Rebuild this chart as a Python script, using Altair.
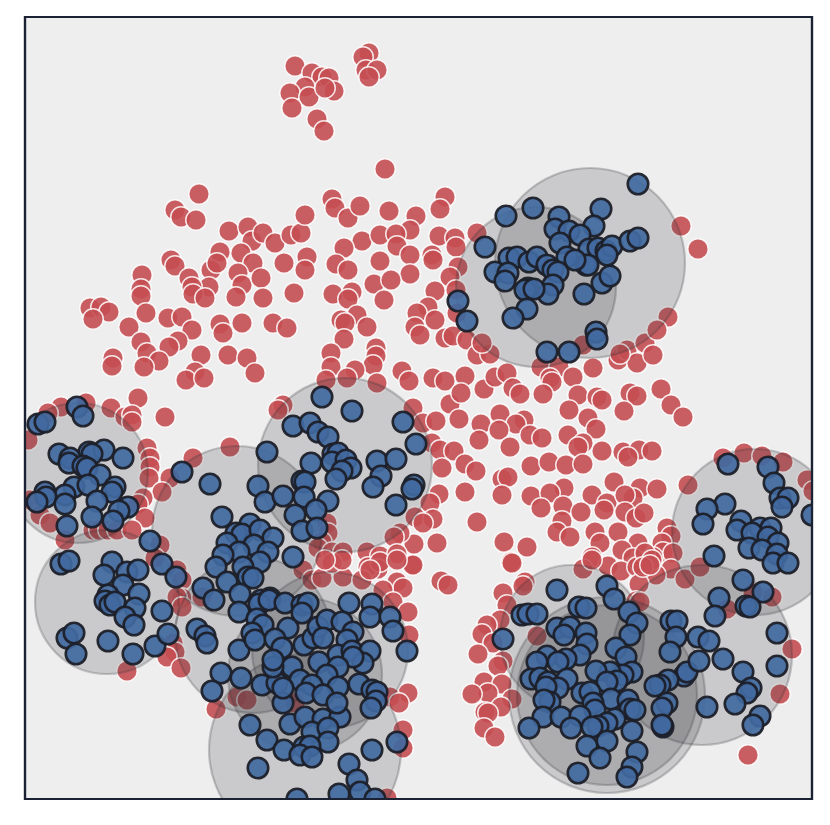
import altair as alt
import pandas as pd

red_top = [(295,66),(312,73),(322,77),(329,78),(305,87),(334,91),(290,93),(309,97),(325,88),(292,108),(317,119),(324,131),(369,53),(363,57),(366,70),(377,70),(369,77),(385,169)]
red_upper_left = [(199,194),(175,210),(181,217),(196,220),(229,231),(248,227),(252,241),(263,233),(275,243),(291,235),(301,233),(305,215),(220,252),(241,253),(211,270),(217,263),(253,263),(284,263),(307,257),(305,270),(171,260),(175,266),(142,275),(141,289),(141,296),(189,278),(209,287),(192,287),(193,294),(205,298),(238,273),(242,285),(261,278),(236,297),(263,298),(294,293),(90,308),(101,307),(109,312),(93,319),(146,313),(168,318),(182,317),(129,327),(192,330),(141,342),(178,341),(169,347),(220,324),(223,333),(242,323),(273,323),(287,328),(147,353),(159,361),(113,358),(112,366),(144,367),(201,355),(228,355),(247,358),(255,373),(195,372),(186,380),(204,378)]
red_upper_mid = [(332,199),(335,208),(348,218),(360,206),(389,211),(445,197),(440,209),(416,216),(410,230),(362,241),(344,248),(380,235),(396,234),(397,246),(410,255),(439,236),(455,238),(456,247),(432,255),(433,260),(477,233),(336,264),(348,270),(380,261),(410,274),(458,267),(450,277),(374,284),(391,280),(333,294),(352,292),(348,299),(384,300),(435,291),(428,307),(417,313),(435,320),(456,290),(457,313),(357,315),(341,320),(345,323),(367,327),(344,339),(415,327),(420,335),(445,338),(453,336),(467,340),(376,348),(376,356),(331,353),(331,367),(373,365),(355,370),(326,380),(347,378),(377,383),(402,371),(409,381),(433,378),(445,381),(465,376),(477,355),(490,354),(484,389),(450,404),(413,408),(482,343)]
red_center = [(495,377),(507,373),(513,388),(520,394),(541,367),(559,367),(573,377),(550,378),(552,382),(543,394),(593,368),(618,360),(627,350),(637,363),(645,343),(653,355),(583,345),(620,354),(668,317),(657,330),(578,395),(597,397),(602,400),(630,393),(637,396),(661,389),(671,405),(683,417),(624,411),(569,410),(588,418),(596,429),(423,423),(436,421),(459,419),(461,393),(500,414),(481,424),(524,420),(516,424),(499,430),(479,440),(530,435),(542,438),(568,435),(510,447),(432,443),(440,450),(454,451),(583,443),(578,447),(602,451),(623,452),(639,450),(652,451),(628,457),(442,468),(465,464),(476,471),(531,466),(549,462),(566,465),(583,464),(502,479),(508,477),(502,495),(614,482),(564,488),(531,496),(550,493),(541,508),(563,506),(592,495),(607,503),(604,510),(640,488),(633,498),(625,495),(657,489),(625,512),(636,518),(644,513),(581,512),(562,521),(557,532),(570,537),(439,494),(465,492),(430,503),(415,517),(433,519),(423,523),(477,522),(414,544),(437,543),(504,542),(527,547),(511,562),(595,532),(618,532),(600,543),(638,543),(622,550),(592,557),(667,528),(671,536),(662,543),(663,552),(673,553),(633,558),(653,557),(608,566),(621,571),(637,567),(583,569),(671,569),(656,575),(639,584),(685,579),(412,565),(441,581),(448,585),(525,582),(523,586),(503,593),(688,485),(645,553),(652,560),(643,567),(650,565),(700,567)]
red_lower = [(507,605),(592,560),(636,601),(500,620),(487,625),(482,634),(493,643),(478,654),(537,636),(503,661),(498,666),(484,682),(502,684),(488,693),(472,694),(512,699),(501,707),(485,712),(488,713),(484,728),(495,737),(640,602),(512,563)]
red_right = [(723,458),(744,453),(762,456),(783,462),(807,480),(813,491),(727,609),(772,597),(753,593),(792,649),(780,694),(748,755),(681,226),(698,249)]
red_left = [(138,398),(111,408),(86,403),(61,407),(48,413),(125,417),(132,415),(132,422),(165,417),(28,440),(230,447),(147,448),(150,458),(150,467),(149,478),(193,458),(170,478),(162,492),(143,498),(138,504),(145,518),(30,500),(40,515),(50,523),(93,530),(99,530),(108,530),(117,530),(132,530),(65,540),(160,545),(155,558),(177,570),(182,580),(182,598),(177,597),(202,597),(182,607),(173,643),(175,652),(167,657),(127,671),(181,668)]
red_mid_low = [(283,405),(278,410),(327,523),(328,533),(322,542),(318,548),(332,552),(343,552),(400,533),(394,537),(367,552),(380,556),(397,554),(413,565),(378,569),(368,567),(303,570),(312,580),(322,578),(343,577),(362,580),(397,582),(403,588),(383,590),(393,602),(408,612),(409,635),(408,693),(390,697),(399,703),(403,730),(403,748),(387,798),(216,709),(237,697),(247,700),(295,703),(332,563),(380,562),(397,560),(342,560),(325,560),(370,570)]

blue_top_right = [(638,184),(506,216),(533,208),(601,209),(559,217),(555,229),(594,226),(569,231),(580,235),(560,243),(567,257),(589,249),(485,247),(509,258),(517,257),(529,262),(537,257),(547,265),(553,270),(558,272),(495,272),(508,273),(505,281),(553,285),(548,294),(528,288),(525,290),(534,289),(527,309),(513,318),(584,294),(602,283),(610,276),(586,265),(598,248),(606,251),(612,246),(607,255),(630,241),(638,238),(588,265),(575,260),(458,301),(467,321),(547,352),(569,352),(596,332),(597,339)]
blue_left = [(77,407),(83,416),(38,424),(45,422),(59,454),(89,452),(104,450),(92,454),(70,458),(69,463),(123,458),(83,466),(87,468),(100,475),(74,487),(88,485),(115,487),(112,492),(65,495),(45,492),(46,497),(37,502),(65,504),(97,501),(128,507),(119,511),(113,521),(92,517),(67,526),(150,541),(162,564),(176,577),(182,472),(210,484),(222,517)]
blue_low_left = [(61,564),(69,561),(112,562),(104,575),(127,572),(138,570),(123,585),(139,594),(108,595),(105,601),(110,605),(115,602),(135,608),(125,617),(134,625),(162,611),(67,638),(74,633),(76,654),(108,641),(133,654),(155,646),(168,634),(197,629),(205,636),(207,643)]
blue_mid_cluster = [(250,524),(236,533),(242,534),(260,530),(227,543),(273,538),(254,545),(239,552),(223,555),(268,552),(260,562),(216,567),(243,567),(248,577),(253,578),(203,588),(227,582),(214,600),(240,594),(239,612),(261,600),(270,598)]
blue_bottom_mid = [(239,650),(221,673),(212,691),(241,678),(262,685),(277,683),(250,725),(267,740),(284,750),(258,768),(290,724),(283,703),(305,717),(323,719),(340,717),(312,732),(328,728),(328,742),(304,747),(310,746),(300,755),(312,757),(349,603),(372,604),(370,617),(390,617),(393,631),(407,651),(259,604),(269,600),(285,603),(302,605),(308,603),(302,613),(257,619),(263,625),(252,633),(255,640),(288,628),(275,639),(282,648),(304,645),(313,638),(318,627),(327,620),(342,622),(323,638),(353,632),(347,640),(338,655),(352,651),(370,651),(363,663),(353,657),(319,662),(338,667),(292,667),(273,667),(273,660),(300,680),(327,675),(312,685),(338,687),(359,684),(306,693),(323,695),(372,690),(377,692),(376,701),(371,708),(337,703),(283,688),(397,742),(372,750),(349,764),(357,780),(360,792),(339,794),(297,799),(375,799)]
blue_bottom_right = [(557,590),(607,586),(614,599),(579,607),(586,608),(522,615),(528,614),(537,614),(629,612),(637,623),(630,635),(503,639),(557,628),(570,627),(564,635),(586,633),(587,644),(580,655),(616,648),(626,657),(547,656),(537,662),(566,659),(558,662),(632,672),(623,675),(610,672),(596,671),(617,681),(607,682),(531,679),(540,678),(548,682),(567,679),(558,688),(546,687),(550,702),(544,700),(582,693),(590,692),(611,699),(593,703),(595,710),(628,700),(630,709),(635,710),(543,717),(561,717),(580,716),(571,728),(529,728),(615,719),(607,723),(598,726),(592,727),(632,731),(587,746),(607,741),(600,758),(637,752),(632,767),(627,777),(578,773),(671,621),(677,621),(676,637),(670,652),(684,676),(687,672),(668,680),(660,685),(655,686),(667,703),(662,708),(663,727),(662,725)]
blue_right = [(728,464),(768,467),(774,483),(780,498),(788,498),(782,507),(725,504),(707,509),(703,524),(741,521),(737,530),(760,528),(771,528),(752,533),(768,537),(778,543),(749,548),(762,550),(777,554),(773,563),(788,563),(714,556),(743,580),(763,592),(719,598),(715,616),(746,606),(750,607),(777,633),(777,666),(723,659),(698,637),(709,641),(699,661),(743,672),(751,688),(747,693),(735,704),(707,707),(760,716),(753,725),(812,515)]
blue_center = [(322,397),(352,411),(293,426),(310,423),(318,432),(328,437),(403,422),(416,444),(267,452),(333,454),(338,453),(311,463),(332,462),(346,460),(351,468),(342,471),(336,479),(377,461),(396,459),(381,476),(373,487),(414,485),(412,489),(396,505),(302,481),(305,482),(258,486),(265,502),(283,496),(304,497),(328,501),(316,510),(295,515),(302,531),(317,528),(293,557)]

circle_cx = [590,536,78,237,107,330,305,305,607,607,572,702,755,345,253]
circle_cy = [263,287,473,531,602,650,675,750,695,695,637,655,532,465,635]
circle_r = [95,80,70,85,72,78,77,96,98,90,72,90,83,87,78]

FRAME = "#1b2233"
reds = red_top + red_upper_left + red_upper_mid + red_center + red_lower + red_right + red_left + red_mid_low
blues = blue_top_right + blue_left + blue_low_left + blue_mid_cluster + blue_bottom_mid + blue_bottom_right + blue_right + blue_center

red_df = pd.DataFrame(reds, columns=["x", "y"])
blue_df = pd.DataFrame(blues, columns=["x", "y"])
circ_df = pd.DataFrame({"x": circle_cx, "y": circle_cy, "r": circle_r})
circ_df["s"] = (2 * circ_df["r"]) ** 2

xs = alt.Scale(domain=[25, 812], nice=False, zero=False)
ys = alt.Scale(domain=[799, 17], nice=False, zero=False)
X = alt.X("x:Q", scale=xs, axis=None)
Y = alt.Y("y:Q", scale=ys, axis=None)

red = alt.Chart(red_df).mark_point(filled=True, clip=True, size=420, fill="#c44e52", fillOpacity=0.9,
                                   stroke="white", strokeWidth=1.5, strokeOpacity=0.85).encode(x=X, y=Y)
circles = alt.Chart(circ_df).mark_point(filled=True, clip=True, fill="#3c3c42", fillOpacity=0.2,
                                        stroke="#333338", strokeWidth=2.2, strokeOpacity=0.25).encode(
    x=X, y=Y, size=alt.Size("s:Q", scale=None, legend=None))
blue = alt.Chart(blue_df).mark_point(filled=True, clip=True, size=420, fill="#41699f", fillOpacity=0.92,
                                     stroke="#1c2029", strokeWidth=2.6, strokeOpacity=0.95).encode(x=X, y=Y)
frame = alt.Chart(alt.Data(values=[{"a": 1}])).mark_rect(fillOpacity=0, stroke=FRAME, strokeWidth=2.2).encode(
    x=alt.value(0), x2=alt.value(787), y=alt.value(0), y2=alt.value(782))

chart = (red + circles + blue + frame).properties(
    width=787, height=782, background="white",
    padding={"left": 15, "top": 7, "right": 0, "bottom": 0},
).configure_view(fill="#eeeeef", stroke=FRAME, strokeWidth=2.2)

chart.save("out.html", embed_options={"renderer": "svg", "actions": False})
